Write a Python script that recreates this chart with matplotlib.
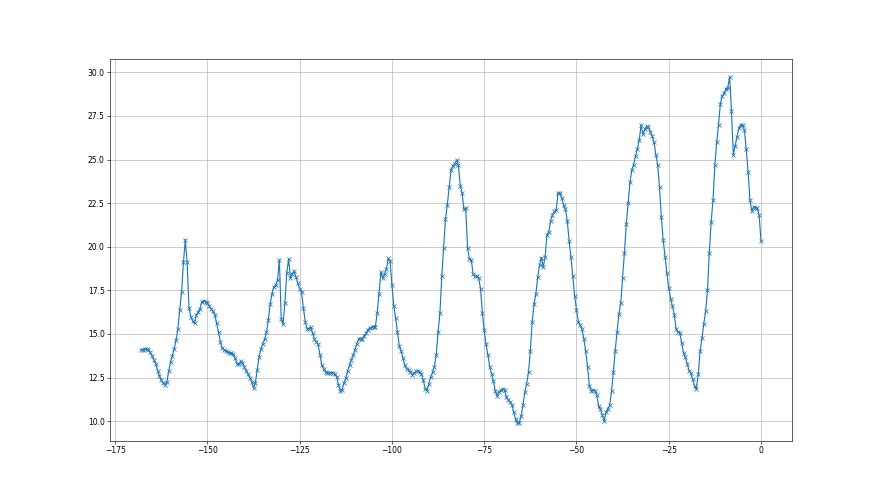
import numpy as np
import matplotlib
matplotlib.use("Agg")
import matplotlib.pyplot as plt

# hours relative to now, half-hour steps
x_start, x_end, x_step = -168.0, 0.0, 0.5
values = [
    14.1, 14.1, 14.15, 14.15, 14.1, 13.95, 13.75, 13.5, 13.3, 12.9,
    12.6, 12.35, 12.2, 12.1, 12.25, 12.85, 13.4, 13.75, 14.15, 14.65,
    15.3, 16.4, 17.4, 19.1, 20.4, 19.1, 16.5, 16.0, 15.75, 15.6,
    16.1, 16.25, 16.45, 16.85, 16.9, 16.85, 16.8, 16.6, 16.45, 16.3,
    16.1, 15.6, 15.1, 14.55, 14.2, 14.1, 14.05, 13.95, 13.9, 13.9,
    13.85, 13.6, 13.3, 13.25, 13.45, 13.35, 13.1, 12.9, 12.7, 12.5,
    12.25, 11.9, 12.2, 12.95, 13.7, 14.15, 14.45, 14.7, 15.1, 15.8,
    16.7, 17.3, 17.7, 17.8, 18.1, 19.25, 15.85, 15.55, 16.8, 18.5,
    19.3, 18.2, 18.45, 18.6, 18.25, 17.9, 17.6, 17.4, 16.5, 15.7,
    15.3, 15.3, 15.4, 15.05, 14.7, 14.55, 14.4, 13.8, 13.2, 13.0,
    12.8, 12.78, 12.78, 12.78, 12.78, 12.7, 12.55, 12.1, 11.75, 11.8,
    12.2, 12.45, 12.9, 13.2, 13.5, 13.8, 14.1, 14.45, 14.73, 14.73,
    14.73, 14.9, 15.05, 15.25, 15.33, 15.38, 15.41, 15.41, 16.2, 17.3,
    18.55, 18.2, 18.45, 18.7, 19.33, 19.2, 17.8, 16.6, 15.9, 15.1,
    14.3, 14.0, 13.6, 13.2, 13.0, 12.94, 12.8, 12.67, 12.75, 12.85,
    12.87, 12.8, 12.7, 12.35, 11.85, 11.75, 12.15, 12.55, 12.8, 13.13,
    13.8, 15.1, 16.2, 18.3, 19.9, 21.6, 22.4, 23.4, 24.4, 24.65,
    24.77, 24.95, 24.7, 23.5, 23.1, 22.15, 22.2, 19.9, 19.3, 19.25,
    18.42, 18.3, 18.3, 18.2, 17.6, 16.2, 15.2, 14.4, 13.8, 13.12,
    12.7, 12.3, 11.73, 11.44, 11.69, 11.77, 11.83, 11.8, 11.4, 11.2,
    11.12, 10.95, 10.5, 10.1, 9.88, 9.9, 10.3, 10.9, 11.65, 12.15,
    12.8, 14.04, 15.7, 16.7, 17.3, 18.25, 18.95, 19.38, 18.85, 19.4,
    20.7, 20.85, 21.5, 21.8, 22.03, 22.1, 23.08, 23.08, 22.8, 22.4,
    22.15, 21.5, 20.35, 19.42, 18.3, 17.2, 16.38, 15.7, 15.5, 15.27,
    14.71, 14.0, 13.12, 12.0, 11.75, 11.77, 11.75, 11.5, 10.87, 10.67,
    10.35, 10.0, 10.5, 10.72, 10.9, 11.73, 12.83, 14.04, 15.13, 16.15,
    16.79, 18.2, 19.67, 21.3, 22.5, 23.7, 24.42, 24.71, 25.2, 25.6,
    26.1, 26.98, 26.44, 26.75, 26.9, 26.85, 26.6, 26.35, 26.0, 25.29,
    24.7, 23.4, 21.69, 20.38, 19.42, 18.5, 17.63, 17.02, 16.6, 16.1,
    15.3, 15.1, 15.06, 14.5, 13.9, 13.65, 13.3, 12.9, 12.75, 12.4,
    12.0, 11.85, 12.7, 14.0, 14.75, 15.58, 16.3, 17.5, 19.67, 21.44,
    22.69, 24.71, 26.0, 27.0, 28.21, 28.65, 28.8, 29.05, 29.12, 29.75,
    27.79, 25.25, 25.8, 26.3, 26.8, 27.0, 26.98, 26.7, 25.6, 24.3,
    22.69, 22.05, 22.3, 22.25, 22.21, 21.8, 20.33,
]
x = np.arange(x_start, x_end + x_step / 2, x_step)

fig, ax = plt.subplots(figsize=(16, 9), dpi=55)
ax.plot(x, values, marker="x", color="C0")
ax.grid(True)
fig.savefig("out.png", dpi=55)
